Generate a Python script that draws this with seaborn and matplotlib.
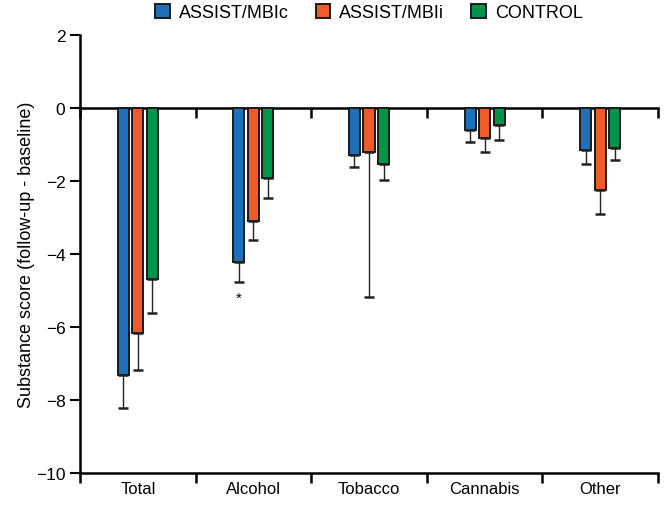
import numpy as np
import pandas as pd
import seaborn as sns
import matplotlib.pyplot as plt

# values
categories = ['Total', 'Alcohol', 'Tobacco', 'Cannabis', 'Other']
groups = ['ASSIST/MBIc', 'ASSIST/MBIi', 'CONTROL']
mbic = [-7.32, -4.23, -1.28, -0.61, -1.14]
mbii = [-6.16, -3.09, -1.22, -0.83, -2.26]
control = [-4.68, -1.91, -1.53, -0.48, -1.11]
# lower end of the error bars
mbic_err = [-8.22, -4.76, -1.61, -0.92, -1.53]
mbii_err = [-7.18, -3.62, -5.17, -1.20, -2.90]
control_err = [-5.61, -2.46, -1.96, -0.89, -1.42]
colors = ['#1f70b8', '#f05a28', '#00934a']

sns.set_theme(style='ticks')
plt.rcParams['font.family'] = ['Liberation Sans', 'DejaVu Sans']
plt.rcParams['text.color'] = 'black'
plt.rcParams['axes.labelcolor'] = 'black'
plt.rcParams['xtick.color'] = 'black'
plt.rcParams['ytick.color'] = 'black'

df = pd.DataFrame({
    'Substance': categories * 3,
    'Group': np.repeat(groups, len(categories)),
    'Score': mbic + mbii + control,
    'Err': mbic_err + mbii_err + control_err,
})

fig = plt.figure(figsize=(6.64, 5.10), dpi=100)
ax = fig.add_axes([0.1205, 0.0706, 0.8705, 0.8589])

sns.barplot(data=df, x='Substance', y='Score', hue='Group', palette=colors,
            saturation=1, width=0.377, gap=0.24, edgecolor='#1a1a1a',
            linewidth=1.4, errorbar=None, ax=ax)

# one-sided error bars, hanging below each bar
for cont, g in zip(ax.containers, groups):
    sub = df[df['Group'] == g]
    xs = [p.get_x() + p.get_width() / 2 for p in cont.patches]
    lower = sub['Score'].values - sub['Err'].values
    ax.errorbar(xs, sub['Score'].values, yerr=[lower, np.zeros_like(lower)],
                fmt='none', ecolor='#222222', elinewidth=1, capsize=3.5,
                capthick=1.8, zorder=1)

# significance mark on the alcohol / MBIc bar
p = ax.containers[0].patches[1]
ax.text(p.get_x() + p.get_width() / 2, -5.2, '*', ha='center', va='center',
        fontsize=11)

ax.set_xlim(-0.5, 4.5)
ax.set_ylim(-10, 2)
ax.set_yticks(range(-10, 3, 2))
ax.set_yticklabels(['\u221210', '\u22128', '\u22126', '\u22124', '\u22122', '0', '2'])
ax.set_xlabel('')
ax.set_ylabel('Substance score (follow-up - baseline)', fontsize=13, labelpad=1)

bounds = np.arange(-0.5, 5, 1)
ax.set_xticks(bounds, minor=True)
ax.tick_params(axis='x', which='major', length=0, labelsize=12, pad=6)
ax.tick_params(axis='x', which='minor', length=7, width=1.8)
ax.tick_params(axis='y', length=7, width=1.5, labelsize=12.5)
sns.despine(ax=ax)
for s in ['left', 'bottom']:
    ax.spines[s].set_linewidth(1.8)
    ax.spines[s].set_color('black')

# zero line with boundary ticks
zero = ax.secondary_xaxis(10 / 12)
zero.set_xticks(bounds)
zero.set_xticklabels([])
zero.tick_params(direction='in', length=7, width=1.8, color='black')
zero.spines['top'].set_linewidth(1.8)
zero.spines['top'].set_color('black')

ax.legend(loc='lower center', bbox_to_anchor=(0.5, 0.995), ncol=3,
          frameon=False, fontsize=13, handlelength=0.8, handleheight=0.8,
          columnspacing=1.5, handletextpad=0.5)

fig.savefig('out.png', dpi=100)
